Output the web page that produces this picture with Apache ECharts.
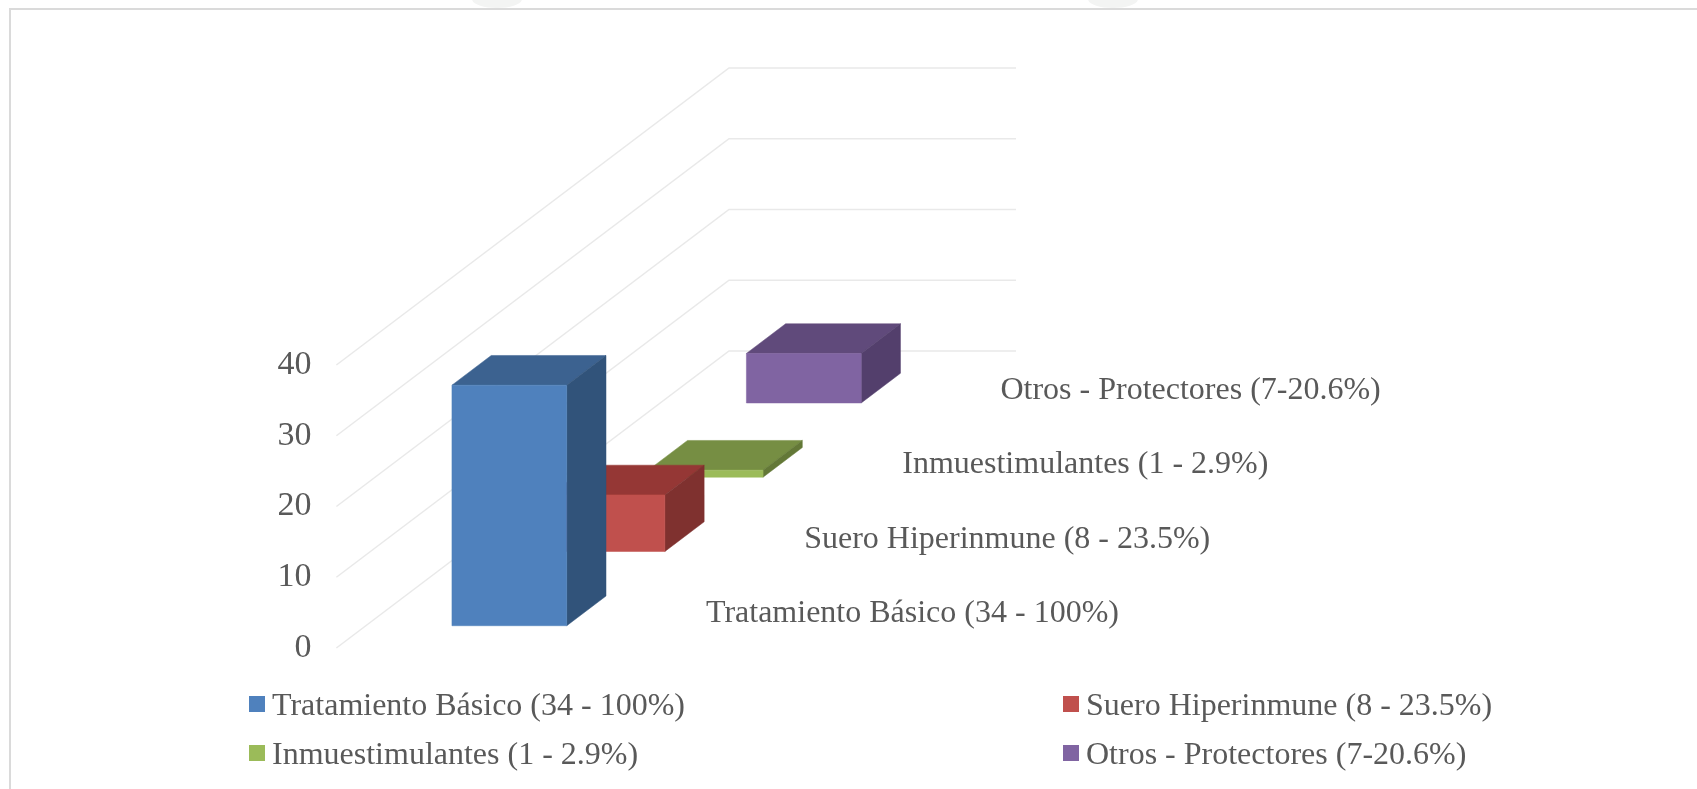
<!DOCTYPE html>
<html>
<head>
<meta charset="utf-8">
<style>
  html, body { margin: 0; padding: 0; background: #fff; }
  #main { width: 1697px; height: 789px; }
</style>
<script src="https://cdn.jsdelivr.net/npm/echarts@6/dist/echarts.min.js"></script>
</head>
<body>
<div id="main"></div>
<script>
const categories = [
  "Tratamiento Básico (34 - 100%)",
  "Suero Hiperinmune (8 - 23.5%)",
  "Inmuestimulantes (1 - 2.9%)",
  "Otros - Protectores (7-20.6%)"
];
const values = [34, 8, 1, 7];
const yTicks = [0, 10, 20, 30, 40];
// front, top, side shades of each column
const frontColors = ["#4F81BD", "#C0504D", "#9BBB59", "#8064A2"];
const topColors = ["#3C6290", "#953735", "#768E43", "#604A7B"];
const sideColors = ["#31537A", "#7F312F", "#637837", "#533F6C"];

const FONT = "Liberation Serif";
const TEXT = "#595959";

// one depth step, in axis units: x runs 0..1 across the floor, y is the value axis
const DEPTH_X = 98.15 / 287;
const DEPTH_Y = 74.25 / 7.075;
const BAR_X = [0.3, 0.7];
const BAR_D = [0.3, 0.7];

function project(api, x, d, v) {
  return api.coord([x + d * DEPTH_X, v + d * DEPTH_Y]);
}

function face(points, color) {
  return {
    type: "polygon",
    shape: { points: points },
    style: { fill: color, stroke: color, lineWidth: 0.5 }
  };
}

function renderBar(index) {
  return function (params, api) {
    const v = api.value(1);
    const d0 = index + BAR_D[0];
    const d1 = index + BAR_D[1];
    const [x0, x1] = BAR_X;
    return {
      type: "group",
      children: [
        face([project(api, x0, d0, v), project(api, x1, d0, v), project(api, x1, d1, v), project(api, x0, d1, v)], topColors[index]),
        face([project(api, x1, d0, 0), project(api, x1, d1, 0), project(api, x1, d1, v), project(api, x1, d0, v)], sideColors[index]),
        face([project(api, x0, d0, 0), project(api, x1, d0, 0), project(api, x1, d0, v), project(api, x0, d0, v)], frontColors[index])
      ]
    };
  };
}

// side wall + back wall line for each value tick
function renderWall(params, api) {
  const v = api.value(1);
  const depth = categories.length;
  return {
    type: "polyline",
    shape: { points: [project(api, 0, 0, v), project(api, 0, depth, v), project(api, 1, depth, v)] },
    style: { fill: null, stroke: "#E9E9E9", lineWidth: 1.5 }
  };
}

// category names of the depth axis, sitting at the floor's right edge
function renderDepthLabel(params, api) {
  const i = params.dataIndex;
  const p = project(api, 1, i + 0.5, 0);
  return {
    type: "text",
    x: p[0] + 33.5,
    y: p[1] + 2.5,
    style: {
      text: categories[i],
      font: "32px '" + FONT + "'",
      fill: TEXT,
      verticalAlign: "middle"
    }
  };
}

const barSeries = categories.map((name, i) => ({
  name: name,
  type: "custom",
  coordinateSystem: "cartesian2d",
  renderItem: renderBar(i),
  itemStyle: { color: frontColors[i] },
  encode: { x: 0, y: 1 },
  data: [[0, values[i]]],
  z: 10 - i
}));

function legendAt(i, left, top) {
  return {
    data: [categories[i]],
    left: left,
    top: top,
    icon: "rect",
    itemWidth: 16,
    itemHeight: 16,
    selectedMode: false,
    formatter: "{t|{name}}",
    // padding on the rich token is what nudges the text below the swatch
    textStyle: {
      rich: { t: { fontFamily: FONT, fontSize: 32, color: TEXT, padding: [6, 0, 0, 2] } }
    }
  };
}

const chart = echarts.init(document.getElementById("main"));
chart.setOption({
  animation: false,
  backgroundColor: "#fff",
  grid: { left: 336.4, top: 365, width: 287, height: 283 },
  xAxis: { type: "value", min: 0, max: 1, show: false },
  yAxis: {
    type: "value",
    min: 0,
    max: 40,
    interval: 10,
    axisLine: { show: false },
    axisTick: { show: false },
    splitLine: { show: false },
    axisLabel: { fontFamily: FONT, fontSize: 34, color: TEXT, margin: 25, padding: [3, 0, 0, 0] }
  },
  legend: [
    legendAt(0, 244, 686),
    legendAt(1, 1058, 686),
    legendAt(2, 244, 735),
    legendAt(3, 1058, 735)
  ],
  graphic: [
    // faint smudges of the scanned page above the frame
    { type: "ellipse", shape: { cx: 497, cy: -1, rx: 25, ry: 9 }, style: { fill: "#F3F4F3" }, silent: true },
    { type: "ellipse", shape: { cx: 1113, cy: -1, rx: 25, ry: 9 }, style: { fill: "#F3F4F3" }, silent: true },
    {
      type: "polyline",
      shape: { points: [[10, 789], [10, 9], [1697, 9]] },
      style: { fill: null, stroke: "#DADADA", lineWidth: 2 },
      silent: true
    }
  ],
  series: [
    {
      type: "custom",
      renderItem: renderWall,
      encode: { x: 0, y: 1 },
      data: yTicks.map(t => [0, t]),
      silent: true,
      z: 1
    },
    {
      type: "custom",
      renderItem: renderDepthLabel,
      encode: { x: 0, y: 1 },
      data: categories.map(() => [0, 0]),
      silent: true,
      z: 2
    }
  ].concat(barSeries)
});
</script>
</body>
</html>
